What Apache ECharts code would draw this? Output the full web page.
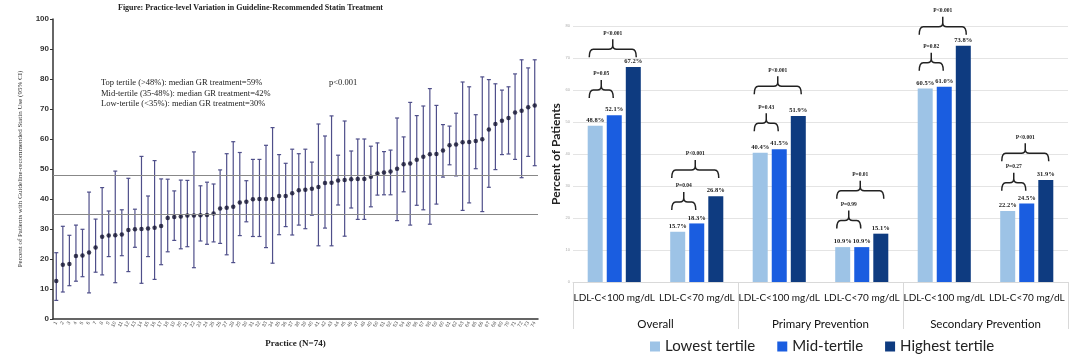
<!DOCTYPE html>
<html>
<head>
<meta charset="utf-8">
<script src="https://cdn.jsdelivr.net/npm/echarts@6/dist/echarts.min.js"></script>
<style>
    html, body { margin: 0; padding: 0; background: #fff; }
    #chart { width: 1080px; height: 354px; }
</style>
</head>
<body>
<div id="chart"></div>
<script>
// left panel: practice-level GR statin use (74 practices)
var practiceIds = ['1','2','3','4','5','6','7','8','9','10','11','12','13','14','15','16','17','18','19','20',
    '21','22','23','24','25','26','27','28','29','30','31','32','33','34','35','36','37','38','39','40',
    '41','42','43','44','45','46','47','48','49','50','51','52','53','54','55','56','57','58','59','60',
    '61','62','63','64','65','66','67','68','69','70','71','72','73','74'];
var grMid = [12.7, 18.1, 18.3, 21.0, 21.2, 22.2, 23.8, 27.4, 27.8, 27.9, 28.2, 29.7, 29.9, 30.0, 30.2, 30.4, 31.0,
    33.7, 34.0, 34.2, 34.5, 34.5, 34.6, 34.7, 35.2, 36.8, 37.1, 37.4, 38.8, 39.1, 39.9, 40.0, 40.0, 40.0,
    41.0, 41.0, 41.9, 42.9, 43.1, 43.4, 44.0, 45.3, 45.4, 46.2, 46.3, 46.6, 46.7, 46.7, 47.4, 48.5, 48.8, 49.2, 50.1,
    51.6, 51.8, 53.1, 54.1, 54.9, 55.0, 56.2, 57.9, 58.2, 58.9, 59.0, 59.3, 59.9, 63.2, 65.0, 66.1, 67.0, 68.8, 69.4, 70.6, 71.2];
var grLow = [6.2, 9.0, 11.1, 12.6, 14.1, 8.7, 15.6, 14.7, 20.8, 12.1, 21.1, 15.8, 23.9, 11.9, 20.8, 13.2, 18.1,
    22.4, 26.2, 23.4, 24.1, 17.1, 26.0, 24.9, 25.7, 25.2, 21.4, 18.8, 27.8, 32.4, 27.5, 27.5, 23.8, 18.6,
    28.1, 30.8, 28.0, 31.3, 30.1, 34.6, 24.4, 30.3, 24.4, 38.0, 27.6, 37.0, 33.2, 33.2, 37.4, 41.3, 41.4, 41.4, 32.8,
    42.4, 31.3, 37.9, 36.4, 31.6, 38.3, 47.3, 51.4, 47.7, 36.2, 38.7, 50.1, 35.8, 43.9, 49.8, 54.8, 55.0, 53.2, 47.1, 54.2, 51.1];
var grHigh = [22.1, 30.9, 27.9, 31.3, 29.9, 42.3, 33.3, 43.8, 36.0, 49.3, 36.4, 46.9, 36.6, 54.2, 41.0, 52.8, 46.7,
    46.6, 42.7, 46.3, 46.2, 55.7, 44.4, 45.6, 45.0, 49.7, 55.1, 59.1, 55.5, 46.1, 53.2, 53.2, 57.9, 63.8,
    54.8, 51.9, 56.6, 55.1, 56.6, 52.3, 65.0, 61.0, 67.7, 54.6, 66.0, 56.0, 60.0, 60.0, 57.6, 58.7, 55.8, 56.3, 67.0,
    60.7, 72.2, 67.8, 71.0, 76.8, 71.2, 64.8, 64.3, 68.6, 79.0, 77.4, 68.1, 80.7, 79.8, 78.4, 76.3, 77.4, 81.7, 86.4, 83.7, 86.4];
var tertileCuts = [48, 35];
var yTicksLeft = [0, 100, 10];

// right panel: goal attainment by tertile
var outcomes = ['LDL-C<100 mg/dL', 'LDL-C<70 mg/dL', 'LDL-C<100 mg/dL', 'LDL-C<70 mg/dL', 'LDL-C<100 mg/dL', 'LDL-C<70 mg/dL'];
var cohorts = ['Overall', 'Primary Prevention', 'Secondary Prevention'];
var tertiles = ['Lowest tertile', 'Mid-tertile', 'Highest tertile'];
var lowestVals = [48.8, 15.7, 40.4, 10.9, 60.5, 22.2];
var midVals = [52.1, 18.3, 41.5, 10.9, 61.0, 24.5];
var highestVals = [67.2, 26.8, 51.9, 15.1, 73.8, 31.9];
// p-value brackets: outcome index, tertile it reaches, bracket level (%), label
var bracketCat = [0, 0, 1, 1, 2, 2, 3, 3, 4, 4, 5, 5];
var bracketTo = [1, 2, 1, 2, 1, 2, 1, 2, 1, 2, 1, 2];
var bracketLevel = [60, 72.7, 25, 35, 49.6, 61.2, 19.2, 28.5, 68.5, 79.8, 31, 40.2];
var bracketText = ['P=0.05', 'P<0.001', 'P=0.04', 'P<0.001', 'P=0.43', 'P<0.001',
    'P=0.99', 'P=0.01', 'P=0.82', 'P<0.001', 'P=0.27', 'P<0.001'];

var chart = echarts.init(document.getElementById('chart'));

var serif = 'Liberation Serif';
var sans = 'Lato';

var option = {
    animation: false,
    backgroundColor: '#fff',
    graphic: [
        { type: 'text', left: 118, top: 4, style: { text: 'Figure: Practice-level Variation in Guideline-Recommended Statin Treatment', font: 'bold 8px "Liberation Serif"', fill: '#222' } },
        { type: 'text', left: 101, top: 78, style: { text: 'Top tertile (>48%): median GR treatment=59%', font: '8.5px "Liberation Serif"', fill: '#222' } },
        { type: 'text', left: 101, top: 89, style: { text: 'Mid-tertile (35-48%): median GR treatment=42%', font: '8.5px "Liberation Serif"', fill: '#222' } },
        { type: 'text', left: 101, top: 99, style: { text: 'Low-tertile (<35%): median GR treatment=30%', font: '8.5px "Liberation Serif"', fill: '#222' } },
        { type: 'text', left: 329, top: 78, style: { text: 'p<0.001', font: '8.5px "Liberation Serif"', fill: '#222' } }
    ],
    legend: {
        data: tertiles,
        left: 645,
        top: 334,
        icon: 'rect',
        itemWidth: 10,
        itemHeight: 10,
        itemGap: 22,
        textStyle: { fontFamily: sans, fontSize: 15, color: '#222' }
    },
    grid: [
        { left: 53, top: 19, width: 485, height: 300 },
        { left: 573, top: 26, width: 495, height: 256 }
    ],
    xAxis: [
        {
            gridIndex: 0,
            type: 'category',
            data: practiceIds,
            axisLine: { lineStyle: { color: '#333', width: 1.5 } },
            axisTick: { show: false },
            axisLabel: { interval: 0, rotate: 60, fontSize: 5, color: '#555', margin: 3 },
            name: 'Practice (N=74)',
            nameLocation: 'middle',
            nameGap: 20,
            nameTextStyle: { fontFamily: serif, fontWeight: 'bold', fontSize: 9, color: '#222' }
        },
        {
            gridIndex: 1,
            type: 'category',
            data: outcomes,
            axisLine: { lineStyle: { color: '#d9d9d9' } },
            axisTick: { show: false },
            axisLabel: { interval: 0, fontFamily: sans, fontSize: 10, color: '#111', margin: 11 }
        },
        {
            gridIndex: 1,
            type: 'category',
            data: cohorts,
            position: 'bottom',
            axisLine: { show: false },
            axisTick: { show: true, length: 47, lineStyle: { color: '#d9d9d9' } },
            axisLabel: { interval: 0, fontFamily: sans, fontSize: 11.5, color: '#111', margin: 36 }
        }
    ],
    yAxis: [
        {
            gridIndex: 0,
            type: 'value',
            min: yTicksLeft[0],
            max: yTicksLeft[1],
            interval: yTicksLeft[2],
            axisLine: { show: true, lineStyle: { color: '#333', width: 1.5 } },
            axisTick: { show: true, length: 3, lineStyle: { color: '#333' } },
            splitLine: { show: false },
            axisLabel: { fontSize: 8, fontWeight: 'bold', color: '#333', margin: 4 },
            name: 'Percent of Patients with Guideline-recommended Statin Use (95% CI)',
            nameLocation: 'middle',
            nameGap: 29,
            nameTextStyle: { fontFamily: serif, fontSize: 7, color: '#333' }
        },
        {
            gridIndex: 1,
            type: 'value',
            min: 0,
            max: 80,
            interval: 10,
            axisLine: { show: false },
            axisTick: { show: false },
            splitLine: { lineStyle: { color: '#e4e4e4' } },
            axisLabel: { fontSize: 4, color: '#aaa', margin: 3 },
            name: 'Percent of Patients',
            nameLocation: 'middle',
            nameGap: 8,
            nameTextStyle: { fontFamily: sans, fontSize: 12, fontWeight: 'bold', color: '#222' }
        }
    ],
    series: [
        {
            // 95% CI whiskers
            type: 'custom',
            xAxisIndex: 0,
            yAxisIndex: 0,
            data: practiceIds.map(function (p, i) { return [i, grLow[i], grHigh[i]]; }),
            renderItem: function (params, api) {
                var lo = api.coord([api.value(0), api.value(1)]);
                var hi = api.coord([api.value(0), api.value(2)]);
                var st = { stroke: '#4f4f8a', lineWidth: 1.2 };
                return {
                    type: 'group',
                    children: [
                        { type: 'line', shape: { x1: lo[0], y1: lo[1], x2: hi[0], y2: hi[1] }, style: st },
                        { type: 'line', shape: { x1: lo[0] - 2, y1: lo[1], x2: lo[0] + 2, y2: lo[1] }, style: st },
                        { type: 'line', shape: { x1: hi[0] - 2, y1: hi[1], x2: hi[0] + 2, y2: hi[1] }, style: st }
                    ]
                };
            },
            z: 2
        },
        {
            type: 'scatter',
            xAxisIndex: 0,
            yAxisIndex: 0,
            data: grMid,
            symbolSize: 4.5,
            itemStyle: { color: '#111130' },
            z: 3,
            markLine: {
                silent: true,
                symbol: 'none',
                label: { show: false },
                lineStyle: { color: '#888', type: 'solid', width: 1 },
                data: tertileCuts.map(function (v) { return { yAxis: v }; })
            }
        },
        barSeries(tertiles[0], lowestVals, '#9dc3e6'),
        barSeries(tertiles[1], midVals, '#1a5de0'),
        barSeries(tertiles[2], highestVals, '#0e3b80'),
        {
            // p-value curly brackets
            type: 'custom',
            xAxisIndex: 1,
            yAxisIndex: 1,
            data: bracketCat.map(function (c, i) { return [c, bracketLevel[i]]; }),
            renderItem: function (params, api) {
                var i = params.dataIndex;
                var c = api.coord([api.value(0), api.value(1)]);
                var step = 19;
                var x1 = c[0] - step - 6;
                var x2 = bracketTo[i] === 2 ? c[0] + step + 3 : c[0] - 1;
                var y = c[1];
                var xm = (x1 + x2) / 2;
                var d = 8, s = 10;
                var path = 'M' + x1 + ' ' + (y + d) + ' Q' + x1 + ' ' + y + ' ' + (x1 + 4) + ' ' + y +
                    ' L' + (xm - 4) + ' ' + y + ' Q' + xm + ' ' + y + ' ' + xm + ' ' + (y - 4) +
                    ' L' + xm + ' ' + (y - s) + ' M' + xm + ' ' + (y - 4) +
                    ' Q' + xm + ' ' + y + ' ' + (xm + 4) + ' ' + y +
                    ' L' + (x2 - 4) + ' ' + y + ' Q' + x2 + ' ' + y + ' ' + x2 + ' ' + (y + d);
                return {
                    type: 'group',
                    children: [
                        { type: 'path', shape: { pathData: path }, style: { stroke: '#222', lineWidth: 1.5, fill: null } },
                        { type: 'text', x: xm, y: y - s - 3, style: { text: bracketText[i], font: 'bold 5.5px "Liberation Serif"', fill: '#222', align: 'center', verticalAlign: 'bottom' } }
                    ]
                };
            },
            z: 5
        }
    ]
};

function barSeries(name, values, color) {
    return {
        name: name,
        type: 'bar',
        xAxisIndex: 1,
        yAxisIndex: 1,
        data: values,
        barWidth: 15,
        barGap: '27%',
        itemStyle: { color: color },
        label: {
            show: true,
            position: 'top',
            distance: 2,
            formatter: function (p) { return p.value.toFixed(1) + '%'; },
            fontFamily: serif,
            fontWeight: 'bold',
            fontSize: 6.5,
            color: '#222'
        }
    };
}

chart.setOption(option);
</script>
</body>
</html>
